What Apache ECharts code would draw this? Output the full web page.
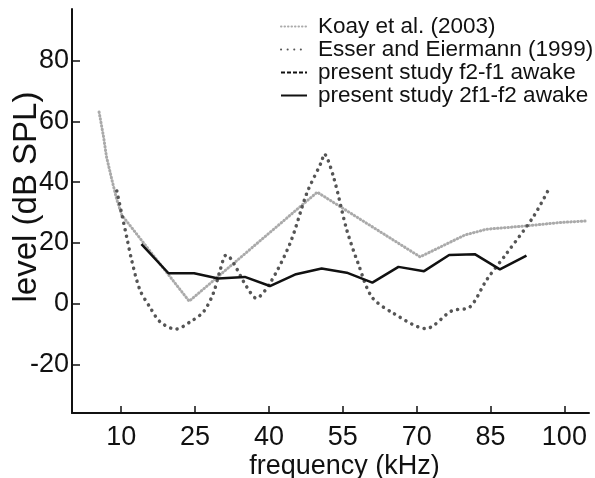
<!DOCTYPE html>
<html>
<head>
<meta charset="utf-8">
<script src="https://cdn.jsdelivr.net/npm/echarts@6/dist/echarts.min.js"></script>
<style>
html,body{margin:0;padding:0;background:#fff;}
#c{width:595px;height:478px;}
</style>
</head>
<body>
<div id="c"></div>
<script>
// ---- data (frequency kHz, level dB SPL) ----
const xTicks = [10, 25, 40, 55, 70, 85, 100];
const yTicks = [-20, 0, 20, 40, 60, 80];

const koayFreq  = [5.5, 6.4, 7.0, 8.1, 9.1, 10.1, 23.8, 49.8, 70.7, 79.8, 84.2, 92.3, 99.1, 104.2];
const koayLevel = [63.1, 55.0, 48.4, 40.8, 34.2, 29.2, 0.8, 36.7, 15.4, 22.6, 24.5, 25.6, 26.7, 27.2];

const esserFreq  = [9.1, 11.1, 12.1, 13.8, 15.8, 17.9, 21.1, 24.0, 26.7, 28.7, 30.1, 31.3, 35.5, 37.4, 40.2, 44.3, 47.7, 50.7, 51.2, 53.1, 55.8, 58.1, 60.9, 65.3, 71.9, 77.1, 80.8, 84.2, 88.3, 93.7, 97.0];
const esserLevel = [37.1, 22.0, 14.4, 4.5, -1.1, -6.0, -8.4, -6.0, -2.7, 3.4, 11.1, 16.0, 5.5, 1.8, 6.7, 19.9, 36.4, 46.8, 49.3, 41.8, 24.3, 13.3, 2.2, -3.2, -8.2, -2.4, -1.1, 7.8, 16.6, 28.6, 38.2];

const f2f1Freq  = [];
const f2f1Level = [];

const dpFreq  = [14.1, 19.6, 24.8, 29.7, 35.1, 40.2, 45.5, 50.7, 55.8, 61.0, 66.3, 71.5, 76.6, 81.8, 86.9, 92.3];
const dpLevel = [19.6, 10.0, 10.0, 8.3, 8.8, 5.8, 9.7, 11.6, 10.2, 6.9, 12.1, 10.7, 16.0, 16.3, 11.3, 15.8];

const names = ['Koay et al. (2003)', 'Esser and Eiermann (1999)', 'present study f2-f1 awake', 'present study 2f1-f2 awake'];

function pairs(xs, ys) { return xs.map((x, i) => [x, ys[i]]); }

const FONT = 'Liberation Sans, Arial, Helvetica, sans-serif';
const chart = echarts.init(document.getElementById('c'), null, {renderer: 'canvas'});
chart.setOption({
  animation: false,
  backgroundColor: '#fff',
  textStyle: {fontFamily: FONT},
  grid: {left: 72, right: 6, top: 9, bottom: 65, containLabel: false, outerBoundsMode: 'none'},
  legend: {
    orient: 'vertical',
    left: 275, top: 10,
    itemWidth: 26, itemHeight: 12, itemGap: 0,
    itemStyle: {opacity: 0},
    textStyle: {fontSize: 22.5, color: '#111', fontFamily: FONT, padding: [0,0,0,6]},
    data: names
  },
  xAxis: {
    type: 'value', min: 0, max: 105,
    name: 'frequency (kHz)', nameLocation: 'middle', nameGap: 40, nameMoveOverlap: false,
    nameTextStyle: {fontSize: 27, color: '#111', fontFamily: FONT, padding: [0,0,0,28]},
    axisLine: {show: true, onZero: false, lineStyle: {color: '#111', width: 2}},
    axisTick: {show: true, inside: true, length: 7, lineStyle: {color: '#111', width: 1.5}, customValues: xTicks},
    axisLabel: {show: true, fontSize: 27, color: '#111', margin: 11, fontFamily: FONT, customValues: xTicks},
    splitLine: {show: false}
  },
  yAxis: {
    type: 'value', min: -36, max: 97,
    name: 'level (dB SPL)', nameLocation: 'middle', nameGap: 29, nameMoveOverlap: false,
    nameTextStyle: {fontSize: 33, color: '#111', fontFamily: FONT, padding: [0,0,0,28]},
    axisLine: {show: true, onZero: false, lineStyle: {color: '#111', width: 2}},
    axisTick: {show: true, inside: true, length: 8, lineStyle: {color: '#111', width: 1.5}, customValues: yTicks},
    axisLabel: {show: true, fontSize: 27, color: '#111', margin: 3, fontFamily: FONT, customValues: yTicks},
    splitLine: {show: false}
  },
  series: [
    {
      name: names[0], type: 'line', symbol: 'none', z: 2,
      data: pairs(koayFreq, koayLevel),
      lineStyle: {color: '#aaaaaa', width: 3, type: [0.5, 3], cap: 'round'},
      itemStyle: {color: '#aaaaaa'}
    },
    {
      name: names[1], type: 'line', symbol: 'none', smooth: 0.3, z: 3,
      data: pairs(esserFreq, esserLevel),
      lineStyle: {color: '#555555', width: 3.5, type: [0.1, 6.5], cap: 'round'},
      itemStyle: {color: '#555555'}
    },
    {
      name: names[2], type: 'line', symbol: 'none', z: 4,
      data: pairs(f2f1Freq, f2f1Level),
      lineStyle: {color: '#111', width: 2, type: [4, 2]},
      itemStyle: {color: '#111'}
    },
    {
      name: names[3], type: 'line', symbol: 'none', z: 5,
      data: pairs(dpFreq, dpLevel),
      lineStyle: {color: '#111', width: 2.5},
      itemStyle: {color: '#111'}
    }
  ]
});
</script>
</body>
</html>
